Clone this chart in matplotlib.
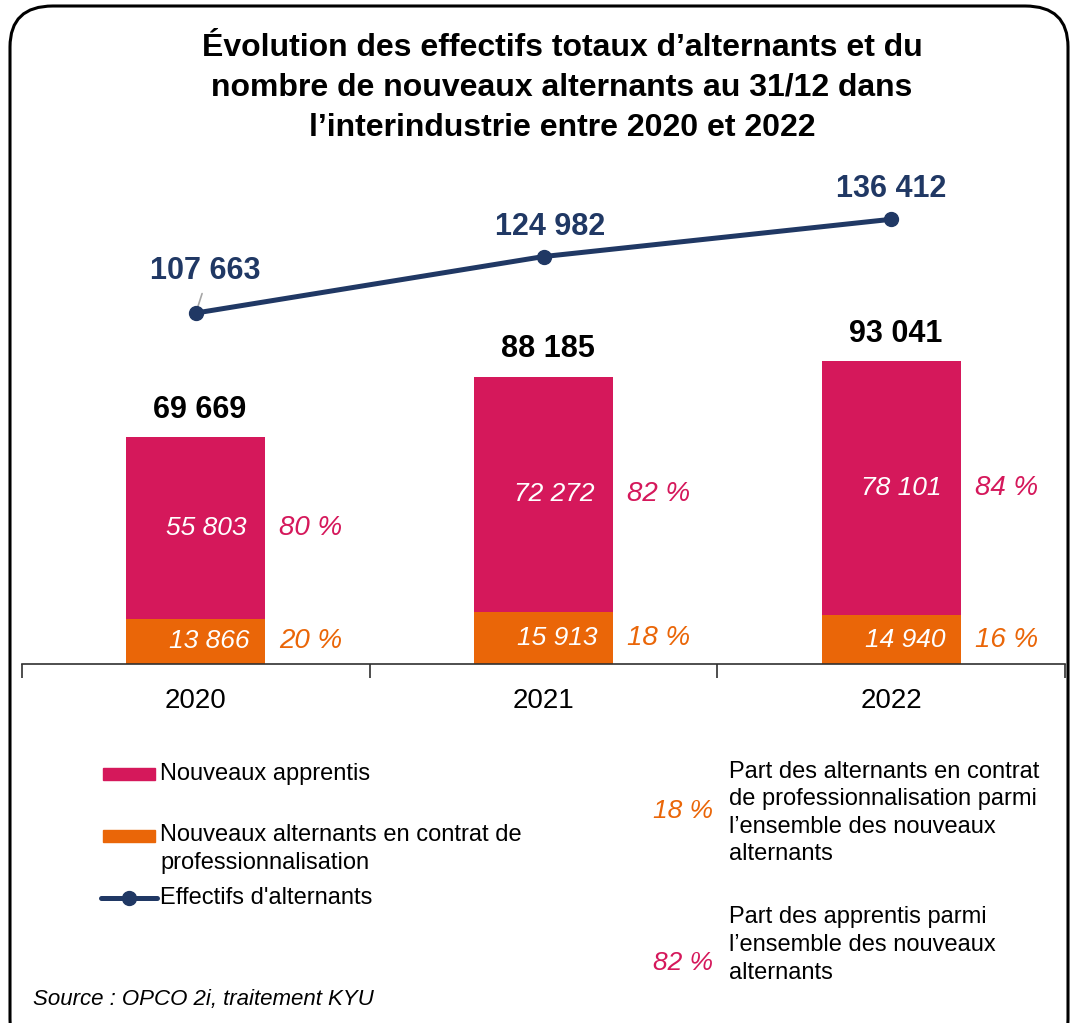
import matplotlib
matplotlib.use("Agg")
import matplotlib.pyplot as plt
import matplotlib.patches as mp
from matplotlib.lines import Line2D

plt.rcParams['font.family'] = ['Liberation Sans', 'DejaVu Sans']

# data
years = ["2020", "2021", "2022"]
apprentis = [55803, 72272, 78101]
pro = [13866, 15913, 14940]
totals_new = [69669, 88185, 93041]
effectifs = [107663, 124982, 136412]
pct_app = ["80 %", "82 %", "84 %"]
pct_pro = ["20 %", "18 %", "16 %"]

c_app = "#D5185B"
c_pro = "#EA6608"
c_navy = "#203864"

W, H = 1071, 1023
def fx(x): return x / W
def fy(y): return 1 - y / H

def fmt(v):
    return f"{v:,}".replace(",", " ")

fig = plt.figure(figsize=(W / 100, H / 100), dpi=100)

# rounded frame
frame = mp.FancyBboxPatch((fx(10), fy(1060)), fx(1058), 1060 / H - 6 / H,
                          boxstyle="round,pad=0,rounding_size=0.04",
                          transform=fig.transFigure, fill=False,
                          edgecolor="black", linewidth=2.2, clip_on=False)
fig.add_artist(frame)

fig.text(fx(562), fy(88),
         "Évolution des effectifs totaux d’alternants et du\n"
         "nombre de nouveaux alternants au 31/12 dans\n"
         "l’interindustrie entre 2020 et 2022",
         ha="center", va="center", fontsize=23, fontweight="bold",
         linespacing=1.42)

ax = fig.add_axes([fx(22), fy(664), 1043 / W, 489 / H])
x = list(range(len(years)))
bw = 0.4
ax.bar(x, pro, bw, color=c_pro, zorder=2)
ax.bar(x, apprentis, bw, bottom=pro, color=c_app, zorder=2)
ax.plot(x, effectifs, color=c_navy, lw=3.6, marker="o", ms=10, zorder=3)

ax.set_xlim(-0.5, 2.5)
ax.set_ylim(0, 150000)
for s in ["top", "right", "left"]:
    ax.spines[s].set_visible(False)
ax.spines["bottom"].set_color("#303030")
ax.spines["bottom"].set_linewidth(1.2)
ax.set_yticks([])
ax.set_xticks(x)
ax.set_xticklabels(years, fontsize=20)
ax.tick_params(axis="x", which="major", length=0, pad=17)
ax.set_xticks([-0.5, 0.5, 1.5, 2.5], minor=True)
ax.tick_params(axis="x", which="minor", length=10, width=1.2, color="#303030")

for i in x:
    mid_a = pro[i] + apprentis[i] / 2
    mid_p = pro[i] / 2
    ax.text(i + 0.03, mid_a, fmt(apprentis[i]), ha="center", va="center",
            color="white", fontsize=19, style="italic", zorder=4)
    ax.text(i + 0.04, mid_p, fmt(pro[i]), ha="center", va="center",
            color="white", fontsize=19, style="italic", zorder=4)
    ax.text(i + bw / 2 + 0.04, mid_a, pct_app[i], ha="left", va="center",
            color=c_app, fontsize=20, style="italic")
    ax.text(i + bw / 2 + 0.04, mid_p, pct_pro[i], ha="left", va="center",
            color=c_pro, fontsize=20, style="italic")
    ax.annotate(fmt(totals_new[i]), (i, totals_new[i]), xytext=(3, 19.5),
                textcoords="offset points", ha="center", va="center",
                fontsize=22, fontweight="bold", color="black")

line_off = [(7, 30), (5, 21), (0, 22)]
for i in x:
    ax.annotate(fmt(effectifs[i]), (i, effectifs[i]), xytext=line_off[i],
                textcoords="offset points", ha="center", va="center",
                fontsize=22, fontweight="bold", color=c_navy, zorder=5)
# leader line for first point
ax.annotate("", (0, effectifs[0]), xytext=(4.5, 14), textcoords="offset points",
            arrowprops=dict(arrowstyle="-", color="#A6A6A6", lw=1.2,
                            shrinkA=0, shrinkB=0), zorder=2)

# legend (left)
fs = 17
ls = 1.33
fig.add_artist(mp.Rectangle((fx(103), fy(780)), 52 / W, 12 / H, color=c_app,
                            transform=fig.transFigure))
fig.text(fx(160), fy(774), "Nouveaux apprentis", fontsize=fs, va="center")
fig.add_artist(mp.Rectangle((fx(103), fy(842)), 52 / W, 12 / H, color=c_pro,
                            transform=fig.transFigure))
fig.text(fx(160), fy(849), "Nouveaux alternants en contrat de\nprofessionnalisation",
         fontsize=fs, va="center", linespacing=ls)
fig.add_artist(Line2D([fx(101), fx(157)], [fy(898), fy(898)], color=c_navy,
                      lw=3.6, transform=fig.transFigure, solid_capstyle="round"))
fig.add_artist(Line2D([fx(129)], [fy(898)], color=c_navy, marker="o", ms=10,
                      transform=fig.transFigure))
fig.text(fx(160), fy(898), "Effectifs d'alternants", fontsize=fs, va="center")

# legend (right)
fig.text(fx(713), fy(811), "18 %", fontsize=19, style="italic", color=c_pro,
         ha="right", va="center")
fig.text(fx(729), fy(813),
         "Part des alternants en contrat\nde professionnalisation parmi\n"
         "l’ensemble des nouveaux\nalternants",
         fontsize=fs, va="center", linespacing=ls)
fig.text(fx(713), fy(963), "82 %", fontsize=19, style="italic", color=c_app,
         ha="right", va="center")
fig.text(fx(729), fy(945),
         "Part des apprentis parmi\nl’ensemble des nouveaux\nalternants",
         fontsize=fs, va="center", linespacing=ls)

fig.text(fx(33), fy(999), "Source : OPCO 2i, traitement KYU", fontsize=16,
         style="italic", va="center")

fig.savefig("out.png", dpi=100)
